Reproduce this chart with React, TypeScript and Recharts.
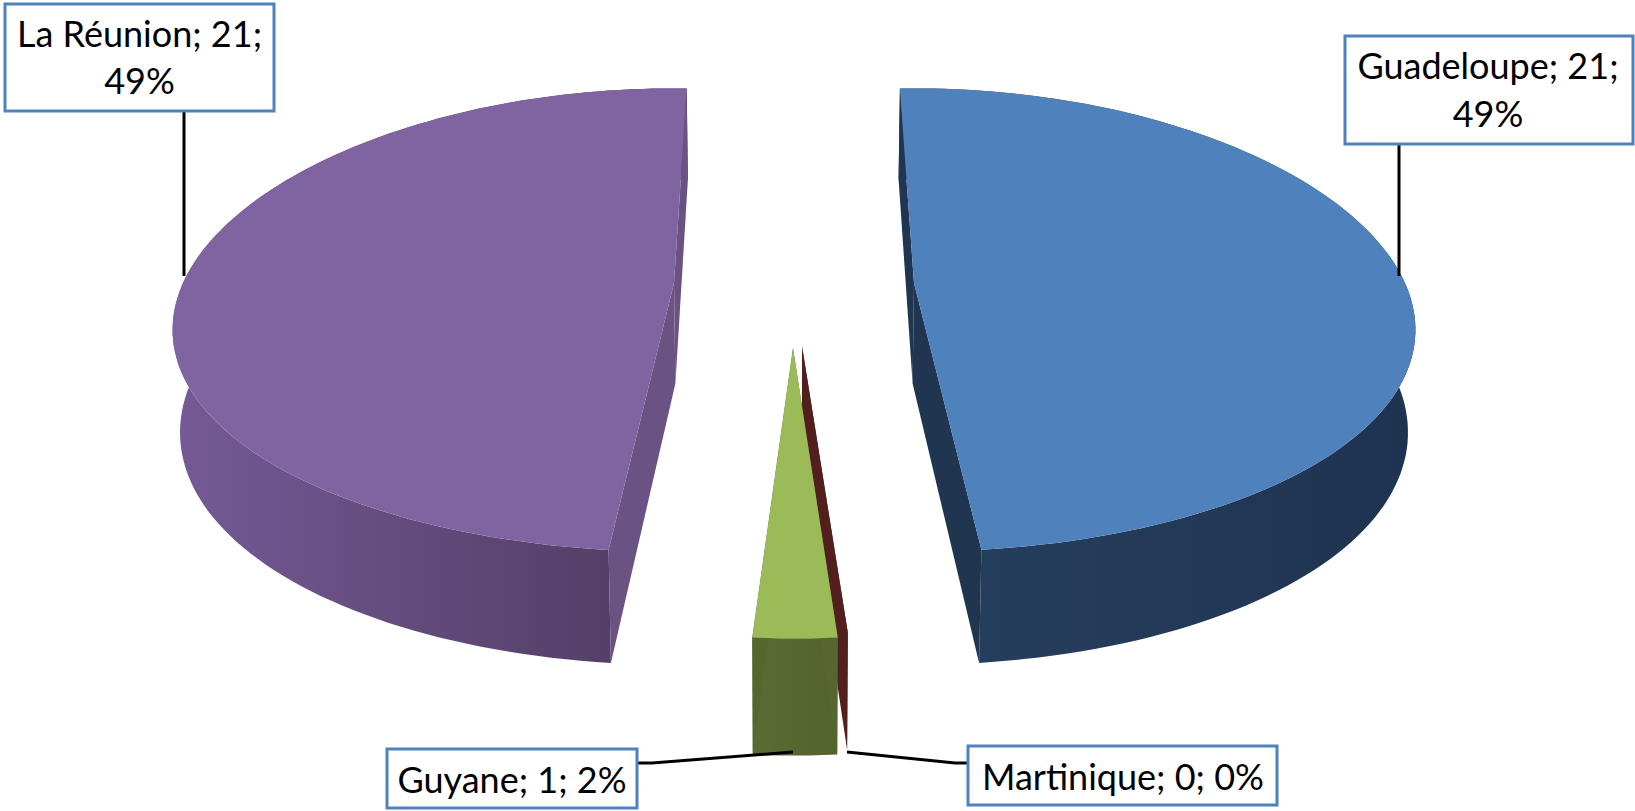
import { Pie, PieChart } from 'recharts'

const regions = ['Guadeloupe', 'Martinique', 'Guyane', 'La Réunion']
const counts = [21, 0.12, 1, 21]
const topColors = ['#4f81bd', '#7b2c2a', '#9bbb59', '#8064a2']

const chartData = regions.map((name, i) => ({ name, value: counts[i], fill: topColors[i] }))

// 3D look: how far each slice is pulled out of the pie, and its face colours
const sliceLayout = [
  { dx: 120, dy: 0, rot: 0.4, sx: 1.004, sy: 1, taper: false, cut: '#1f3550', wall: ['#27405f', '#1e3350'], top: '#4f81bd' },
  { dx: 8, dy: 63, rot: 2.5, sx: 1, sy: 1.07, taper: true, cut: '#531f1e', wall: ['#531f1e', '#531f1e'], top: '#531f1e' },
  { dx: -1, dy: 65, rot: 1.6, sx: 1, sy: 1.08, taper: false, cut: '#56662f', wall: ['#5a6b34', '#54632c'], top: '#9bbb59' },
  { dx: -120, dy: 0, rot: 4, sx: 1.004, sy: 1, taper: false, cut: '#6a5283', wall: ['#755a96', '#4d3a5f'], top: '#8064a2' },
]

const labelBoxes = [
  { x: 1345, y: 36, w: 288, h: 108, textX: 1488, lines: [79, 127], leader: '1399,144 1399,276' },
  { x: 968, y: 746, w: 309, h: 59, textX: 1123, lines: [790], leader: '968,763 955,763 847,752' },
  { x: 387, y: 749, w: 250, h: 59, textX: 512, lines: [793], leader: '637,763 652,763 793,752' },
  { x: 5, y: 4, w: 269, h: 107, textX: 139.5, lines: [47, 94], leader: '184,111 184,276' },
]

const FLATTEN = 0.458
const PERSPECTIVE = 0.16
const SIDE_DROP = 10

function toPath(points: number[][]) {
  return 'M' + points.map((p) => `${p[0].toFixed(1)},${p[1].toFixed(1)}`).join('L') + 'Z'
}

function SliceShape(props: any) {
  const { cx, cy, outerRadius, startAngle, endAngle, index } = props
  const layout = sliceLayout[index]
  const apex = [cx + layout.dx, cy + layout.dy]

  const project = (clockwise: number) => {
    const rad = ((clockwise + layout.rot) * Math.PI) / 180
    const u = Math.sin(rad)
    const v = -Math.cos(rad)
    const s = 1 / (1 - PERSPECTIVE * v)
    return [
      apex[0] + outerRadius * layout.sx * u * s,
      apex[1] + outerRadius * layout.sy * FLATTEN * v * s + SIDE_DROP * u * u,
    ]
  }
  // bottom face: same outline pushed down, pulled slightly to the middle
  const lower = (p: number[]) => [cx + (p[0] - cx) * 0.988, p[1] + 87 + 0.0474 * p[1]]

  const from = 90 - startAngle
  const to = 90 - endAngle
  const steps = Math.max(2, Math.ceil((to - from) / 1.5))
  const rim: number[][] = []
  for (let i = 0; i <= steps; i++) rim.push(project(from + ((to - from) * i) / steps))

  const first = rim[0]
  const last = rim[rim.length - 1]
  const lowerRim = layout.taper ? [lower(first)] : rim.map(lower)
  const id = `wall-${index}`

  return (
    <g>
      <defs>
        <linearGradient id={id} x1="0" y1="0" x2="1" y2="0">
          <stop offset="0%" stopColor={layout.wall[0]} />
          <stop offset="100%" stopColor={layout.wall[1]} />
        </linearGradient>
      </defs>
      <path d={toPath([...rim, ...lowerRim.slice().reverse()])} fill={`url(#${id})`} />
      <path d={toPath([apex, first, lower(first), lower(apex)])} fill={layout.cut} />
      {!layout.taper && <path d={toPath([apex, last, lower(last), lower(apex)])} fill={layout.cut} />}
      <path d={toPath([apex, ...rim])} fill={layout.top} />
    </g>
  )
}

function SliceLabel(props: any) {
  const { index, name, value, percent } = props
  const box = labelBoxes[index]
  const text = `${name}; ${Math.round(value)}; ${Math.round(percent * 100)}%`
  const parts = box.lines.length > 1 ? [text.slice(0, text.lastIndexOf(' ')), text.slice(text.lastIndexOf(' ') + 1)] : [text]
  return (
    <g>
      <polyline points={box.leader} fill="none" stroke="#000" strokeWidth={3} />
      <rect x={box.x} y={box.y} width={box.w} height={box.h} fill="#fff" stroke="#4f81bd" strokeWidth={3} />
      {parts.map((part, i) => (
        <text key={i} x={box.textX} y={box.lines[i]} textAnchor="middle" fontFamily="Lato" fontSize={36} fill="#000">
          {part}
        </text>
      ))}
    </g>
  )
}

export default function App() {
  return (
    <div style={{ position: 'absolute', left: 0, top: 0, width: 1635, height: 811, background: '#fff' }}>
      <PieChart width={1635} height={811} margin={{ top: 0, right: 0, bottom: 0, left: 0 }}>
        <Pie
          data={chartData}
          dataKey="value"
          nameKey="name"
          cx={794}
          cy={283}
          outerRadius={493}
          startAngle={92.3}
          endAngle={-267.7}
          stroke="none"
          shape={SliceShape}
          activeShape={SliceShape}
          label={SliceLabel}
          labelLine={false}
          isAnimationActive={false}
        />
      </PieChart>
    </div>
  )
}
